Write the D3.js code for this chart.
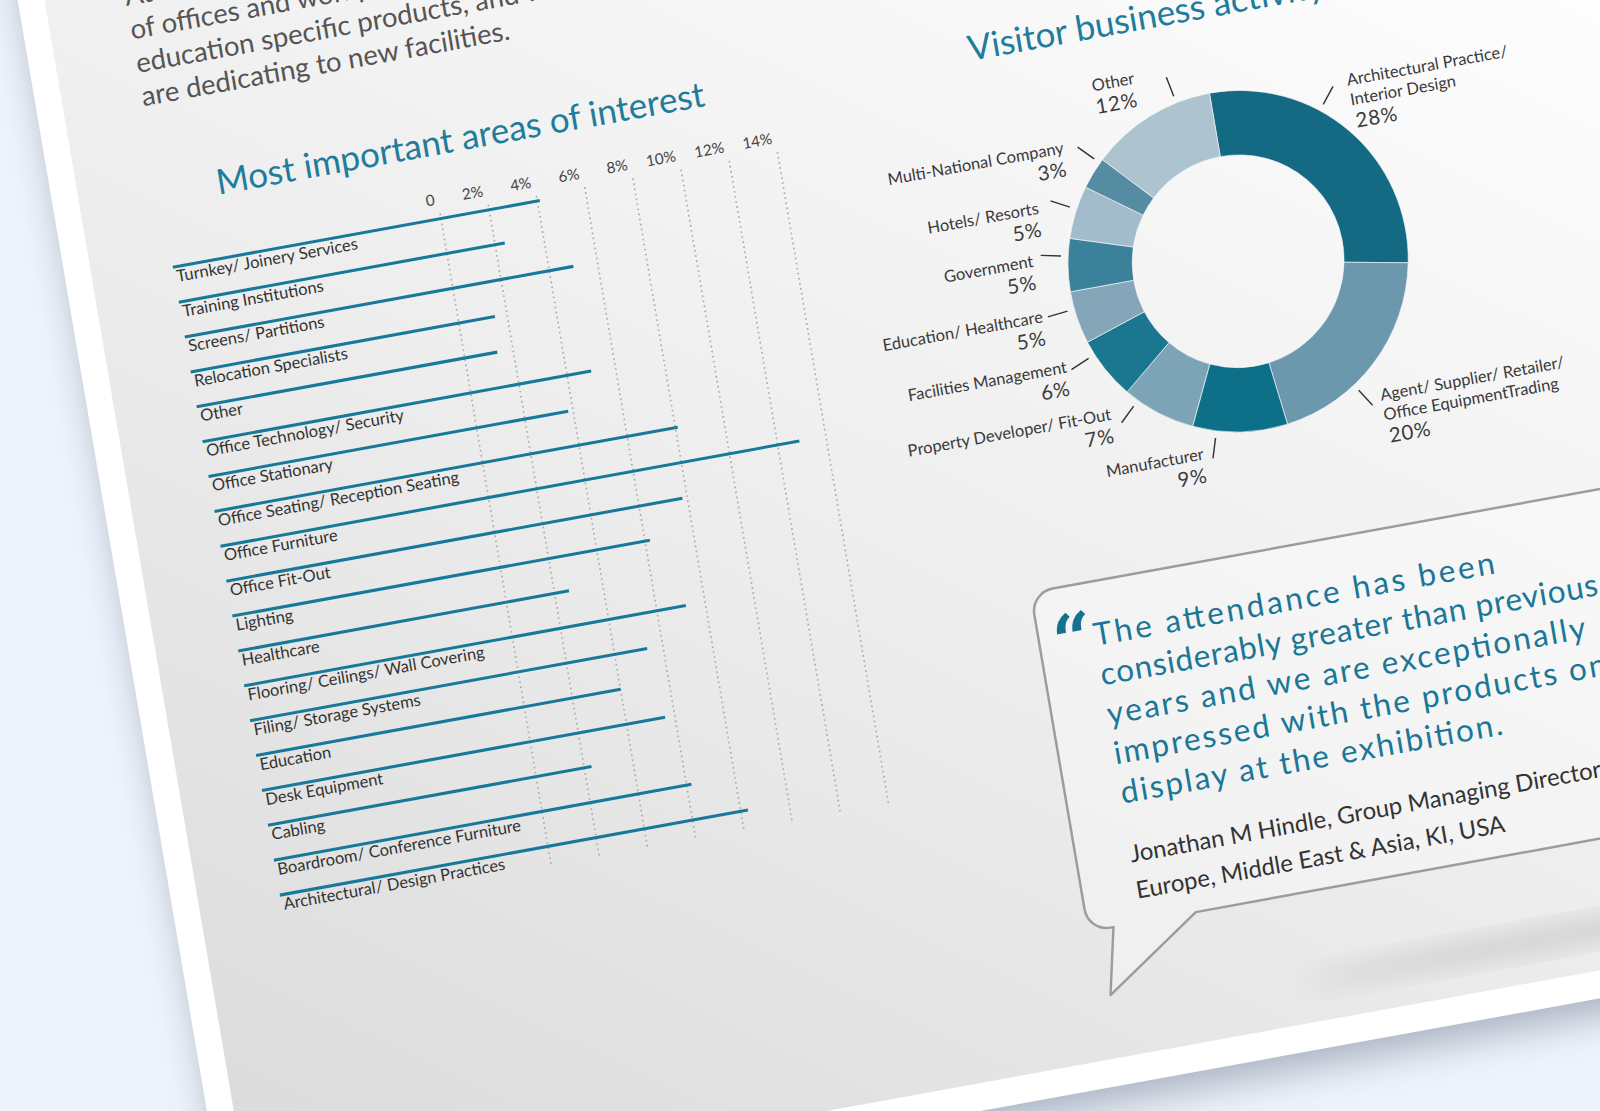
<!DOCTYPE html>
<html><head><meta charset="utf-8">
<script src="https://cdnjs.cloudflare.com/ajax/libs/d3/7.8.5/d3.min.js"></script>
<style>html,body{margin:0;padding:0;background:#eef3fb;overflow:hidden}</style>
</head><body>
<svg id="c" width="1600" height="1111"></svg>
<script>
// ---------- data ----------
const introLines = [
  "At the exhibition, visitors were interested in the design and fit-out",
  "of offices and workplaces, as well as healthcare and",
  "education specific products, and what budgets they",
  "are dedicating to new facilities."
];
const barTitle = "Most important areas of interest";
const barCategories = [
  "Turnkey/ Joinery Services","Training Institutions","Screens/ Partitions",
  "Relocation Specialists","Other","Office Technology/ Security","Office Stationary",
  "Office Seating/ Reception Seating","Office Furniture","Office Fit-Out","Lighting",
  "Healthcare","Flooring/ Ceilings/ Wall Covering","Filing/ Storage Systems",
  "Education","Desk Equipment","Cabling","Boardroom/ Conference Furniture",
  "Architectural/ Design Practices"
];
const barValues = [4.1,2.4,5.0,1.5,1.35,5.0,3.8,8.1,12.9,7.8,6.2,2.6,7.2,5.35,4.0,5.6,2.3,6.2,8.3];
const barTicks = [0,2,4,6,8,10,12,14];
const barTickLabels = ["0","2%","4%","6%","8%","10%","12%","14%"];

const donutTitle = "Visitor business activity";
const donutCategories = [
  "Architectural Practice/\nInterior Design",
  "Agent/ Supplier/ Retailer/\nOffice EquipmentTrading",
  "Manufacturer","Property Developer/ Fit-Out","Facilities Management",
  "Education/ Healthcare","Government","Hotels/ Resorts",
  "Multi-National Company","Other"
];
const donutValues = [28,20,9,7,6,5,5,5,3,12];
const donutColors = ["#136a82","#6b98ad","#0e6f88","#7da3b6","#1b7790",
                     "#84a6b8","#3a8199","#a2bccb","#558ca2","#adc3cf"];
// label / tick angle nudges in degrees (layout only)
const labelNudge = [-8, 8, 10, 10, 5, 1, -1, -4, 0, 1];
const tickNudge  = [-12, 10, 8, 8, 6, 3, 3, 1, 4, 10];

const quoteLines = [
  "The attendance has been",
  "considerably greater than previous",
  "years and we are exceptionally",
  "impressed with the products on",
  "display at the exhibition."
];
const attribution = [
  "Jonathan M Hindle, Group Managing Director",
  "Europe, Middle East & Asia, KI, USA"
];

// ---------- setup ----------
const S = 1600/1568;
const M = [0.984, -0.179, 0.168, 0.986];
const FONT = "Lato, 'Open Sans', sans-serif";
const TEAL = "#1f7c9c";
const quoteWidths = [399, 495, 476, 490, 380];   // layout: rendered line lengths

const svg = d3.select("#c");
const defs = svg.append("defs");
function blur(id, sd){
  defs.append("filter").attr("id",id).attr("x","-30%").attr("y","-60%")
    .attr("width","160%").attr("height","220%")
    .append("feGaussianBlur").attr("stdDeviation",sd);
}
blur("b20",20); blur("b12",13);
const lg = defs.append("linearGradient").attr("id","face")
  .attr("gradientUnits","userSpaceOnUse")
  .attr("x1",250).attr("y1",1250).attr("x2",1150).attr("y2",0);
[[0,"#dcdcdc"],[0.5,"#eeeeee"],[1,"#fdfdfd"]].forEach(s=>
  lg.append("stop").attr("offset",s[0]).attr("stop-color",s[1]));

const meas = svg.append("text").attr("font-family",FONT).style("visibility","hidden");
function textW(str,size,weight=400){
  meas.attr("font-size",size).attr("font-weight",weight).text(str);
  return meas.node().getComputedTextLength();
}
function fitSize(str, base, target, weight=400){
  const w = textW(str,base,weight);
  return w>0 ? base*target/w : base;
}

const scene = svg.append("g").attr("transform",`scale(${S})`);
const page = scene.append("g").attr("transform",`matrix(${M.join(",")},0,0)`);

// page, shadow, face
page.append("rect").attr("x",24).attr("y",-900).attr("width",2600).attr("height",900+1258)
  .attr("fill","#6d7a8f").attr("opacity",0.55).attr("filter","url(#b20)");
page.append("rect").attr("x",17).attr("y",-900).attr("width",2600).attr("height",900+1243)
  .attr("fill","#ffffff");
page.append("rect").attr("x",43).attr("y",-900).attr("width",2600).attr("height",900+1216)
  .attr("fill","url(#face)");

// ---------- intro paragraph ----------
const paraSize = Math.max(18, Math.min(27, fitSize(introLines[3],22,384)));
page.append("g").selectAll("text").data(introLines).join("text")
  .attr("x",121).attr("y",(d,i)=>28+i*33.2)
  .attr("font-family",FONT).attr("font-size",paraSize).attr("fill","#555")
  .text(d=>d);

// ---------- bar chart ----------
const titleSize = Math.max(26, Math.min(36, fitSize(barTitle,30,486)));
page.append("text").attr("x",179).attr("y",226).attr("font-family",FONT)
  .attr("font-size",titleSize).attr("fill",TEAL).text(barTitle);

const x = d3.scaleLinear().domain([0,14]).range([390,726]);
const y = d3.scalePoint().domain(barCategories).range([288,912]);
const bc = page.append("g");
bc.selectAll("line.grid").data(barTicks).join("line").attr("class","grid")
  .attr("x1",d=>x(d)).attr("x2",d=>x(d)).attr("y1",283).attr("y2",933)
  .attr("stroke","#a9a9a9").attr("stroke-width",1.6).attr("stroke-dasharray","1.6 3.4");
bc.selectAll("text.tick").data(barTicks).join("text").attr("class","tick")
  .attr("x",d=>x(d)-3).attr("y",274).attr("text-anchor","end")
  .attr("font-family",FONT).attr("font-size",15).attr("fill","#444")
  .text((d,i)=>barTickLabels[i]);
const labSize = Math.max(13, Math.min(17, fitSize("Office Seating/ Reception Seating",15,240)));
bc.selectAll("line.bar").data(barValues).join("line").attr("class","bar")
  .attr("x1",123).attr("x2",d=>x(d))
  .attr("y1",(d,i)=>y(barCategories[i])).attr("y2",(d,i)=>y(barCategories[i]))
  .attr("stroke","#16799a").attr("stroke-width",3);
bc.selectAll("text.lab").data(barCategories).join("text").attr("class","lab")
  .attr("x",125).attr("y",d=>y(d)+15)
  .attr("font-family",FONT).attr("font-size",labSize).attr("fill","#333")
  .text(d=>d);

// ---------- donut ----------
page.append("text").attr("x",927).attr("y",229).attr("font-family",FONT)
  .attr("font-size",titleSize).attr("fill",TEAL).text(donutTitle);
const dc = {x:1153, y:469};
const pie = d3.pie().sort(null).value(d=>d)(donutValues);
const arc = d3.arc().innerRadius(104).outerRadius(167);
const dg = page.append("g").attr("transform",`translate(${dc.x},${dc.y})`);
dg.selectAll("path").data(pie).join("path").attr("d",arc)
  .attr("fill",(d,i)=>donutColors[i]).attr("stroke","#f4f6f7").attr("stroke-width",0.6);
const nameSize = Math.max(13, Math.min(17, fitSize("Facilities Management",15,158)));
pie.forEach((d,i)=>{
  const mid = (d.startAngle+d.endAngle)/2;
  const ta = mid + tickNudge[i]*Math.PI/180;
  dg.append("line")
    .attr("x1",Math.sin(ta)*174).attr("y1",-Math.cos(ta)*174)
    .attr("x2",Math.sin(ta)*194).attr("y2",-Math.cos(ta)*194)
    .attr("stroke","#333").attr("stroke-width",1.4);
  const la = mid + labelNudge[i]*Math.PI/180;
  const lx = Math.sin(la)*200, ly = -8 - Math.cos(la)*199;
  const right = Math.sin(la) > 0;
  const lines = donutCategories[i].split("\n");
  const t = dg.append("text").attr("font-family",FONT).attr("fill","#3a3a3a")
    .attr("text-anchor",right?"start":"end");
  lines.forEach((ln,j)=>{
    t.append("tspan").attr("x",lx).attr("y",ly+5+j*19.5)
      .attr("font-size",nameSize).text(ln);
  });
  t.append("tspan").attr("x",lx+(right?2:0)).attr("y",ly+5+lines.length*19.5+3)
    .attr("font-size",20).attr("fill","#3c3c3c").attr("letter-spacing",0.8)
    .text(donutValues[i]+"%");
});

// ---------- quote bubble ----------
const bx=898, by=752, bb=1089, r=22;
const bubble = `M${bx+r},${by} H2400 V${bb} H1005 L909,1154 L923,${bb} H${bx+r}
  A${r},${r} 0 0 1 ${bx},${bb-r} V${by+r} A${r},${r} 0 0 1 ${bx+r},${by} Z`;
page.append("ellipse").attr("cx",1430).attr("cy",1176).attr("rx",330).attr("ry",10)
  .attr("fill","#777").attr("opacity",0.3).attr("filter","url(#b12)");
page.append("path").attr("d",bubble).attr("fill","#ffffff").attr("fill-opacity",0.35)
  .attr("stroke","#9c9c9c").attr("stroke-width",2.4).attr("stroke-linejoin","round");

page.append("text").attr("x",912).attr("y",828).attr("font-family","'DejaVu Serif', serif")
  .attr("font-weight",700).attr("font-size",68).attr("fill","#17708f").text("\u201C");
page.append("g").selectAll("text").data(quoteLines).join("text")
  .attr("x",952).attr("y",(d,i)=>815+i*39.2)
  .attr("font-family",FONT).attr("font-size",31)
  .attr("textLength",(d,i)=>quoteWidths[i]).attr("lengthAdjust","spacing")
  .attr("fill","#1b7797").text(d=>d);
const aSize = Math.max(18, Math.min(26, fitSize(attribution[0],22,469)));
page.append("g").selectAll("text").data(attribution).join("text")
  .attr("x",951).attr("y",(d,i)=>1030+i*36)
  .attr("font-family",FONT).attr("font-size",aSize).attr("fill","#333").text(d=>d);
</script>
</body></html>
